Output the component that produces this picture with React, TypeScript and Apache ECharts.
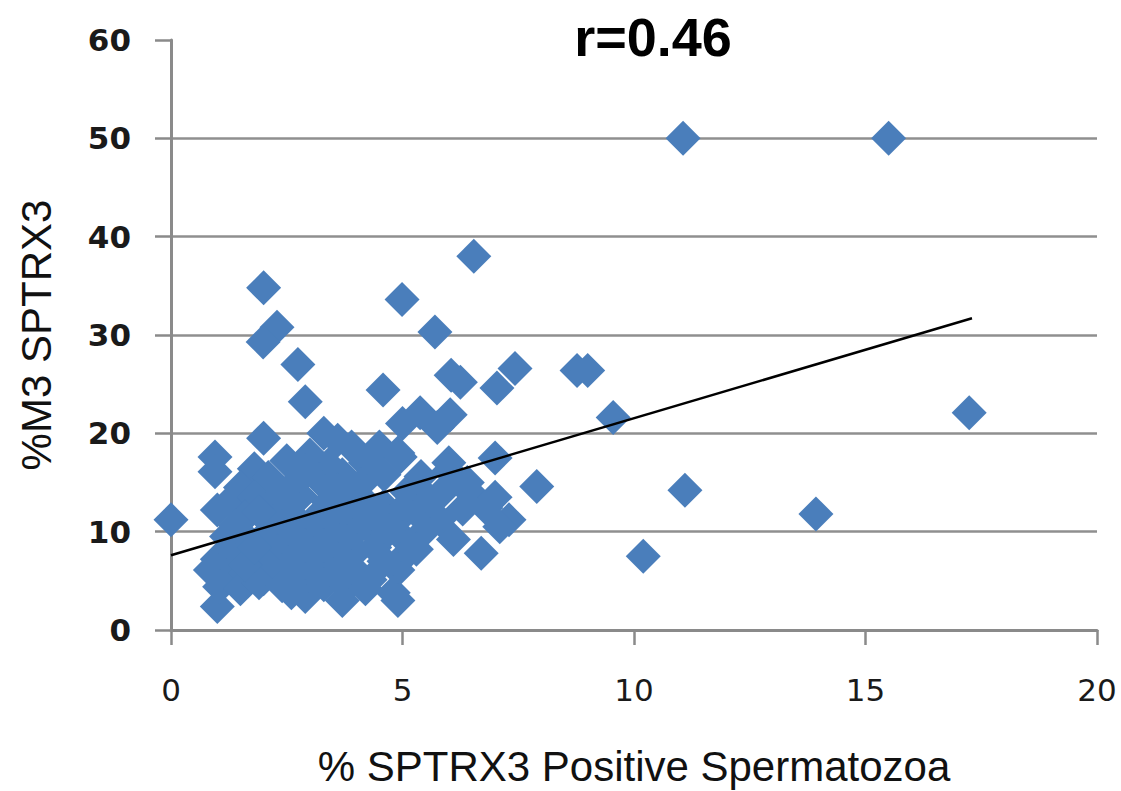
import React, { useEffect, useRef } from "react";
import * as echarts from "echarts";

const titleText = "r=0.46";
const xAxisTitle = "% SPTRX3 Positive Spermatozoa";
const yAxisTitle = "%M3 SPTRX3";

// scatter points [x, y]
const clusterPoints: number[][] = [
  [2.0, 19.5], [3.3, 20.0], [3.6, 19.3], [3.9, 18.6], [4.5, 18.6], [4.9, 18.0],
  [0.95, 17.6], [0.95, 16.1], [1.8, 16.4], [2.5, 17.2], [3.0, 17.8], [3.4, 16.8], [4.2, 17.0], [6.0, 17.0], [7.0, 17.5], [4.95, 17.6],
  [1.5, 14.5], [2.1, 15.5], [2.7, 15.0], [3.2, 15.3], [3.7, 15.8], [4.1, 14.8], [5.4, 15.6], [6.4, 15.0], [6.0, 16.2],
  [1.3, 13.2], [1.8, 13.5], [2.3, 12.8], [2.8, 13.6], [3.4, 13.0], [4.1, 13.5], [4.6, 12.6], [5.1, 14.0], [5.9, 14.2], [6.5, 13.8], [7.0, 13.5],
  [0, 11.2], [1.0, 12.2], [1.6, 11.5], [2.2, 11.0], [2.6, 11.8], [3.1, 11.3], [3.6, 11.6], [4.0, 10.8], [4.9, 11.2], [5.3, 12.0], [5.8, 11.2], [6.3, 12.3], [7.3, 11.2], [7.1, 10.5],
  [1.2, 9.5], [1.7, 9.0], [2.1, 10.0], [2.5, 9.3], [3.0, 9.8], [3.5, 9.0], [3.9, 9.6], [4.4, 9.8], [5.0, 9.4], [5.5, 10.2], [6.1, 9.2], [2.8, 10.5],
  [1.0, 7.2], [1.4, 7.8], [1.9, 7.0], [2.3, 8.0], [2.7, 7.3], [3.1, 7.8], [3.6, 7.2], [4.0, 8.0], [4.4, 8.4], [4.95, 7.1], [6.7, 7.8], [5.3, 8.2],
  [0.85, 6.1], [1.2, 5.5], [1.6, 5.8], [2.0, 5.2], [2.4, 6.0], [2.8, 5.4], [3.2, 6.2], [3.5, 5.6], [4.0, 5.3], [4.3, 5.1], [4.9, 6.1], [2.1, 6.5],
  [1.0, 2.4], [1.05, 4.4], [1.5, 4.2], [1.9, 4.8], [2.4, 4.5], [2.9, 3.4], [3.3, 4.6], [3.7, 3.0], [3.8, 4.4], [4.2, 4.2], [4.8, 3.8], [4.9, 3.0], [2.6, 3.8],
  [1.4, 10.6], [1.9, 12.0], [2.4, 14.0], [3.3, 10.2], [3.8, 12.5], [4.3, 11.5], [4.6, 15.8], [2.9, 16.2], [3.6, 14.2], [4.7, 10.1],
  [1.6, 6.6], [2.6, 6.6], [3.3, 8.6], [3.9, 6.4], [4.6, 7.0], [1.8, 8.4], [2.9, 8.6], [5.1, 12.8], [5.6, 13.2], [6.8, 12.4],
];

const upperPoints: number[][] = [
  [2.0, 34.8], [2.29, 30.8], [1.99, 29.3], [2.74, 27.0], [2.9, 23.2],
  [4.99, 33.6], [5.7, 30.3], [6.54, 38.0], [6.05, 25.9], [6.25, 25.2], [4.58, 24.4],
  [5.38, 22.1], [5.0, 21.0], [6.03, 21.9], [5.75, 20.6], [7.43, 26.6], [7.04, 24.6],
  [8.77, 26.4], [9.0, 26.4], [9.55, 21.6],
];

const outlierPoints: number[][] = [
  [11.06, 50], [15.5, 50], [17.24, 22.1], [13.93, 11.8], [11.1, 14.2], [10.2, 7.5], [7.9, 14.6],
];

const trendX = [0, 17.3];
const trendY = [7.6, 31.7];

const xTicks = [0, 5, 10, 15, 20];
const yTicks = [0, 10, 20, 30, 40, 50, 60];

export default function App() {
  const ref = useRef<HTMLDivElement>(null);
  useEffect(() => {
    if (!ref.current) return;
    const chart = echarts.init(ref.current, null, { renderer: "svg" });
    const allPoints = [...clusterPoints, ...upperPoints, ...outlierPoints];
    const option: any = {
      animation: false,
      backgroundColor: "#ffffff",
      title: {
        text: titleText,
        left: 648,
        top: 5,
        textAlign: "center",
        textStyle: { fontFamily: "Liberation Sans, Arial", fontWeight: "bold", fontSize: 54, color: "#000" },
      },
      grid: { left: 171, right: 24, top: 40, bottom: 161, containLabel: false, outerBoundsMode: "none" },
      xAxis: {
        type: "value",
        min: xTicks[0],
        max: xTicks[xTicks.length - 1],
        interval: 5,
        name: xAxisTitle,
        nameLocation: "middle",
        nameGap: 115,
        nameTextStyle: { fontFamily: "Liberation Sans, Arial", fontSize: 42, color: "#111" },
        axisLine: { show: true, lineStyle: { color: "#8a8a8a", width: 3 } },
        axisTick: { show: true, inside: false, length: 15, lineStyle: { color: "#8a8a8a", width: 2.5 } },
        axisLabel: { margin: 44, fontFamily: "DejaVu Sans, Verdana", fontSize: 31, color: "#1a1a1a" },
        splitLine: { show: false },
      },
      yAxis: {
        type: "value",
        min: yTicks[0],
        max: yTicks[yTicks.length - 1],
        interval: 10,
        name: yAxisTitle,
        nameLocation: "middle",
        nameGap: 114,
        nameRotate: 90,
        nameTextStyle: { fontFamily: "Liberation Sans, Arial", fontSize: 42, color: "#111" },
        axisLine: { show: true, lineStyle: { color: "#8a8a8a", width: 3 } },
        axisTick: { show: true, inside: false, length: 16, lineStyle: { color: "#8a8a8a", width: 2.5 } },
        axisLabel: { margin: 40, fontFamily: "DejaVu Sans, Verdana", fontSize: 31, fontWeight: "bold", color: "#1a1a1a" },
        splitLine: { show: true, showMaxLine: false, lineStyle: { color: "#8f8f8f", width: 2.5 } },
      },
      series: [
        {
          type: "scatter",
          data: allPoints,
          symbol: "diamond",
          symbolSize: [35, 35],
          itemStyle: { color: "#4a7ebb", opacity: 1 },
          z: 2,
        },
        {
          type: "line",
          data: trendX.map((x, i) => [x, trendY[i]]),
          symbol: "none",
          lineStyle: { color: "#000", width: 2.5 },
          z: 3,
        },
      ],
    };
    chart.setOption(option);
    return () => chart.dispose();
  }, []);
  return (
    <div
      ref={ref}
      style={{ position: "fixed", left: 0, top: 0, width: 1121, height: 791, background: "#fff" }}
    />
  );
}
